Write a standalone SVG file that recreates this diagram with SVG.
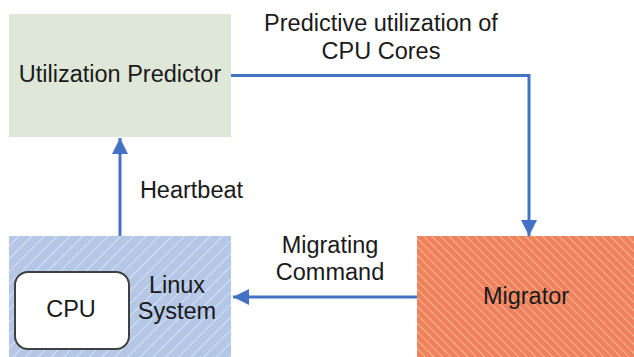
<svg xmlns="http://www.w3.org/2000/svg" width="634" height="357" viewBox="0 0 634 357">
<style>
text{font-family:"Liberation Sans",Arial,sans-serif;font-size:23.5px;fill:#1a1a1a;text-anchor:middle}
.conn{stroke:#4472c4;stroke-width:3;fill:none}
</style>
<defs>
<pattern id="blueHatch" patternUnits="userSpaceOnUse" width="9" height="9" patternTransform="rotate(45)">
<rect width="9" height="9" fill="#b4c7e7"/>
<line x1="0" y1="0" x2="0" y2="9" stroke="#d6e1f2" stroke-width="2"/>
</pattern>
<pattern id="orangeHatch" patternUnits="userSpaceOnUse" width="6" height="6" patternTransform="rotate(-45)">
<rect width="6" height="6" fill="#ef8060"/>
<line x1="0" y1="0" x2="0" y2="6" stroke="#f5c690" stroke-width="1.6"/>
</pattern>
<marker id="arrow" viewBox="0 0 10 10" refX="10" refY="5" markerUnits="userSpaceOnUse" markerWidth="21" markerHeight="16" orient="auto">
<path d="M0,0 L10,5 L0,10 z" fill="#4472c4"/>
</marker>
</defs>
<g id="utilization-predictor">
<rect x="9" y="14" width="222" height="123" fill="#dfe7d8"/>
<text x="120" y="82">Utilization Predictor</text>
</g>
<g id="linux-system">
<rect x="9" y="236" width="222" height="121" fill="url(#blueHatch)"/>
<text x="177" y="293">Linux</text>
<text x="177" y="319">System</text>
</g>
<g id="cpu">
<rect x="15" y="272" width="114" height="77" rx="13" fill="#ffffff" stroke="#404040" stroke-width="2"/>
<text x="71" y="317">CPU</text>
</g>
<g id="migrator">
<rect x="417" y="236" width="217" height="121" fill="url(#orangeHatch)"/>
<text x="526" y="304">Migrator</text>
</g>
<g id="connectors">
<path class="conn" d="M231,75.5 H529 V236" marker-end="url(#arrow)"/>
<path class="conn" d="M120,236 V138" marker-end="url(#arrow)"/>
<path class="conn" d="M417,297 H233" marker-end="url(#arrow)"/>
<text x="381" y="31">Predictive utilization of</text>
<text x="381" y="59">CPU Cores</text>
<text x="191.5" y="198">Heartbeat</text>
<text x="330" y="253">Migrating</text>
<text x="330" y="280">Command</text>
</g>
</svg>
